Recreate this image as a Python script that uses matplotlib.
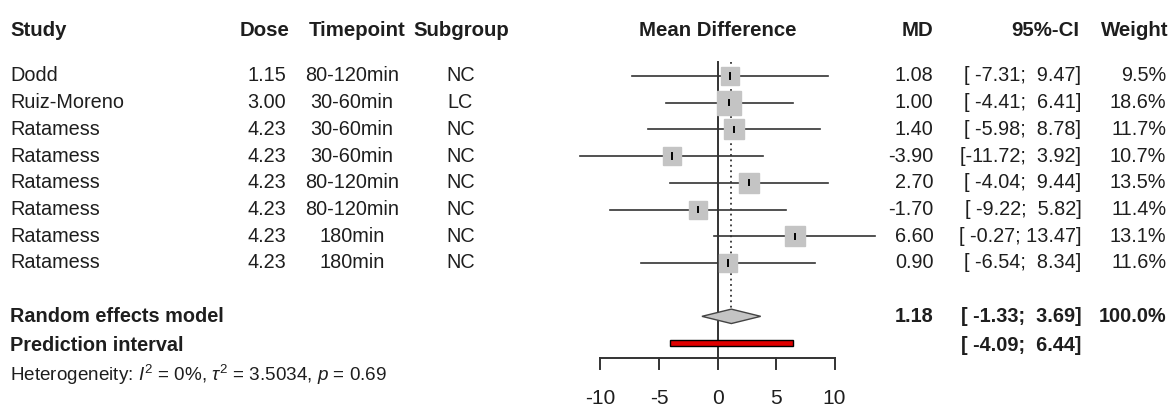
import numpy as np
import matplotlib
matplotlib.use("Agg")
import matplotlib.pyplot as plt
from matplotlib.patches import Polygon, Rectangle

# study-level data
studies = ["Dodd", "Ruiz-Moreno", "Ratamess", "Ratamess", "Ratamess",
           "Ratamess", "Ratamess", "Ratamess"]
doses = [1.15, 3.00, 4.23, 4.23, 4.23, 4.23, 4.23, 4.23]
timepoints = ["80-120min", "30-60min", "30-60min", "30-60min", "80-120min",
              "80-120min", "180min", "180min"]
subgroups = ["NC", "LC", "NC", "NC", "NC", "NC", "NC", "NC"]
md = [1.08, 1.00, 1.40, -3.90, 2.70, -1.70, 6.60, 0.90]
ci_lo = [-7.31, -4.41, -5.98, -11.72, -4.04, -9.22, -0.27, -6.54]
ci_hi = [9.47, 6.41, 8.78, 3.92, 9.44, 5.82, 13.47, 8.34]
weights = [9.5, 18.6, 11.7, 10.7, 13.5, 11.4, 13.1, 11.6]

# pooled estimate and prediction interval
re_md, re_lo, re_hi = 1.18, -1.33, 3.69
pi_lo, pi_hi = -4.09, 6.44

xticks = [-10, -5, 0, 5, 10]

plt.rcParams["font.family"] = ["Liberation Sans", "DejaVu Sans"]
plt.rcParams["mathtext.fontset"] = "custom"
plt.rcParams["mathtext.rm"] = "Liberation Sans"
plt.rcParams["mathtext.it"] = "Liberation Sans:italic"
FS = 14.3
TXT = "#1e1e1e"

fig = plt.figure(figsize=(11.74, 4.09), dpi=100)
ax = fig.add_axes([0, 0, 1, 1])
ax.set_xlim(-61.3, 39.0)
ax.set_ylim(12.47, -2.846)
ax.axis("off")

tx = ax.get_yaxis_transform()  # x in axes fraction, y in rows


def ci_str(lo, hi):
    return "[%s; %s]" % (f"{lo:6.2f}", f"{hi:5.2f}")


# column headers
hy = -1.72
hdr = dict(fontsize=FS + 0.4, fontweight="bold", va="center", transform=tx, color=TXT)
ax.text(0.0085, hy, "Study", ha="left", **hdr)
ax.text(0.2465, hy, "Dose", ha="right", **hdr)
ax.text(0.304, hy, "Timepoint", ha="center", **hdr)
ax.text(0.393, hy, "Subgroup", ha="center", **hdr)
ax.text(0.0, hy, "Mean Difference", ha="center", va="center",
        fontsize=FS + 0.4, fontweight="bold", color=TXT)
ax.text(0.795, hy, "MD", ha="right", **hdr)
ax.text(0.919, hy, "95%-CI", ha="right", **hdr)
ax.text(0.995, hy, "Weight", ha="right", **hdr)

rows = np.arange(len(studies))
cell = dict(fontsize=FS, va="center", transform=tx, color=TXT)
for i in rows:
    ax.text(0.0085, i, studies[i], ha="left", **cell)
    ax.text(0.2434, i, f"{doses[i]:.2f}", ha="right", **cell)
    ax.text(0.300, i, timepoints[i], ha="center", **cell)
    ax.text(0.392, i, subgroups[i], ha="center", **cell)
    ax.text(0.795, i, f"{md[i]:.2f}", ha="right", **cell)
    ax.text(0.921, i, ci_str(ci_lo[i], ci_hi[i]), ha="right", **cell)
    ax.text(0.9935, i, f"{weights[i]:.1f}%", ha="right", **cell)

# study CIs and weighted squares
for i in rows:
    ax.plot([ci_lo[i], ci_hi[i]], [i, i], color="#333333", lw=1.2, zorder=2)
    ms = 4.0 * np.sqrt(weights[i])
    ax.plot(md[i], i, marker="s", ms=ms, mfc="#c4c4c4", mec="#c4c4c4", zorder=3)
    ax.plot([md[i], md[i]], [i - 0.1, i + 0.1], color="black", lw=1.4, zorder=4)

# reference line at zero and pooled estimate
ax.plot([0, 0], [-0.52, 10.56], color="#333333", lw=1.4, zorder=1)
ax.plot([re_md, re_md], [-0.52, 8.73], color="#333333", lw=1.3,
        ls=(0, (1, 2)), zorder=1)

# pooled diamond
dy = 9.0
ax.add_patch(Polygon([[re_lo, dy], [re_md, dy - 0.27], [re_hi, dy], [re_md, dy + 0.27]],
                     closed=True, fc="#c4c4c4", ec="#444444", lw=1.0, zorder=3))
# prediction interval bar
py = 10.0
ax.add_patch(Rectangle((pi_lo, py - 0.11), pi_hi - pi_lo, 0.22,
                       fc="#e00000", ec="black", lw=1.0, zorder=3))

# summary rows
bold = dict(fontsize=FS, fontweight="bold", va="center", transform=tx, color=TXT)
ax.text(0.0085, dy, "Random effects model", ha="left", **bold)
ax.text(0.795, dy, f"{re_md:.2f}", ha="right", **bold)
ax.text(0.921, dy, ci_str(re_lo, re_hi), ha="right", **bold)
ax.text(0.9935, dy, "100.0%", ha="right", **bold)
ax.text(0.0085, py + 0.1, "Prediction interval", ha="left", **bold)
ax.text(0.921, py + 0.1, ci_str(pi_lo, pi_hi), ha="right", **bold)
ax.text(0.0085, 11.2,
        r"Heterogeneity: $I^2$ = 0%, $\tau^2$ = 3.5034, $p$ = 0.69",
        ha="left", va="center", fontsize=13.6, transform=tx, color=TXT)

# x axis drawn by hand under the forest
ay = 10.56
ax.plot([xticks[0], xticks[-1]], [ay, ay], color="#333333", lw=1.4)
for t in xticks:
    ax.plot([t, t], [ay, ay + 0.42], color="#333333", lw=1.4)
    ax.text(t, 12.06, str(t), ha="center", va="center", fontsize=FS + 0.8, color=TXT)

fig.savefig("out.png", dpi=100)
